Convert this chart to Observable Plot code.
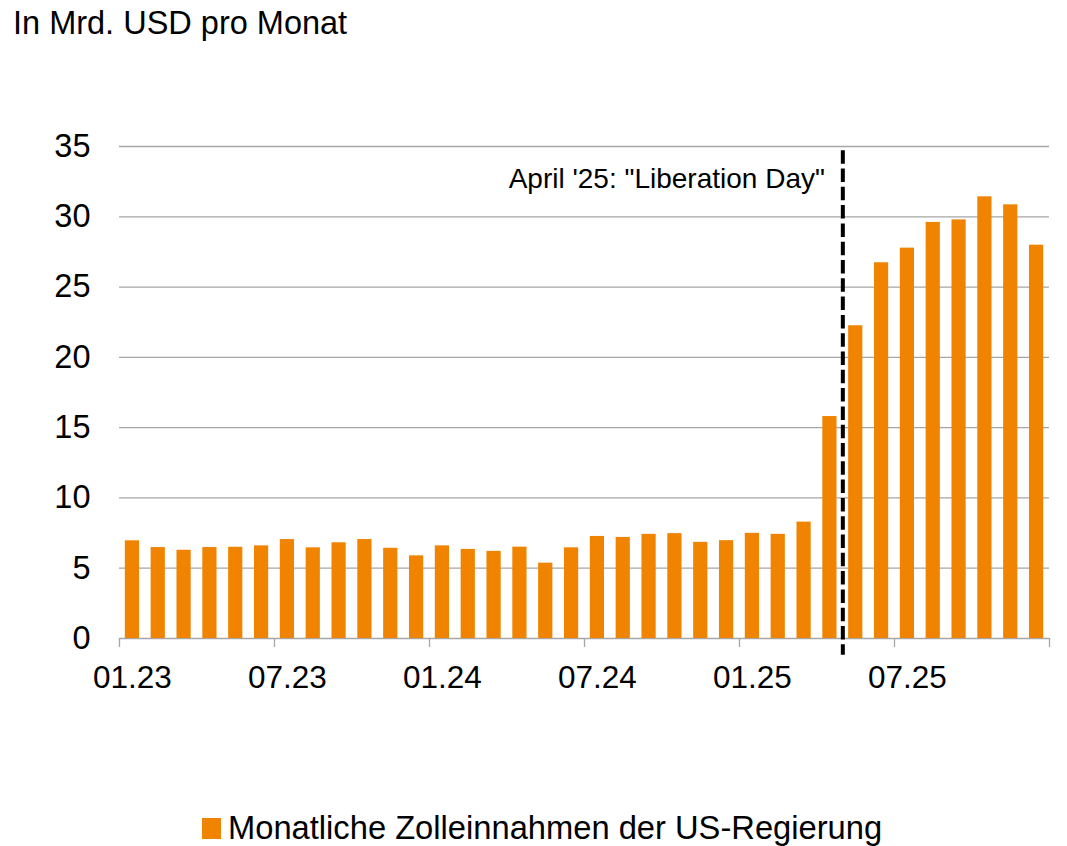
<!DOCTYPE html>
<html><head><meta charset="utf-8">
<script src="https://cdn.jsdelivr.net/npm/d3@7"></script>
<script src="https://cdn.jsdelivr.net/npm/@observablehq/plot@0.6"></script>
<style>
html,body{margin:0;padding:0;background:#fff;}
#wrap{position:relative;width:1067px;height:846px;font-family:"Liberation Sans",Arial,sans-serif;color:#000;overflow:hidden;}
#title{position:absolute;left:13px;top:7px;font-size:32.5px;line-height:32px;white-space:nowrap;}
#chart{position:absolute;left:0;top:50px;}
#legend{position:absolute;left:202px;top:810px;display:flex;align-items:center;font-size:32.7px;line-height:36px;white-space:nowrap;}
.sw{display:inline-block;width:19px;height:21px;background:#f08400;margin-right:7px;}
</style></head><body>
<div id="wrap">
<div id="title">In Mrd. USD pro Monat</div>
<div id="chart"></div>
<div id="legend"><span class="sw"></span><span>Monatliche Zolleinnahmen der US-Regierung</span></div>
</div>
<script>
const months = [
  "01.23","02.23","03.23","04.23","05.23","06.23","07.23","08.23","09.23","10.23","11.23","12.23",
  "01.24","02.24","03.24","04.24","05.24","06.24","07.24","08.24","09.24","10.24","11.24","12.24",
  "01.25","02.25","03.25","04.25","05.25","06.25","07.25","08.25","09.25","10.25","11.25","12.25"
];
const values = [
  6.95, 6.47, 6.28, 6.47, 6.49, 6.59, 7.04, 6.45, 6.81, 7.04, 6.42, 5.88,
  6.59, 6.34, 6.20, 6.50, 5.36, 6.45, 7.26, 7.19, 7.41, 7.46, 6.84, 6.96,
  7.48, 7.41, 8.28, 15.79, 22.25, 26.73, 27.77, 29.60, 29.78, 31.42, 30.85, 27.98
];
const yTicks = [0, 5, 10, 15, 20, 25, 30, 35];
const xTickLabels = ["01.23", "07.23", "01.24", "07.24", "01.25", "07.25"];
const xBoundaryTicks = ["01.23", "07.23", "01.24", "07.24", "01.25", "07.25"];
const lastMonth = "12.25";
const eventMonth = "04.25";
const eventLabel = "April '25: \"Liberation Day\"";
const eventLineTop = 34.7;
const eventLineBottom = -1.2;
const eventLabelY = 32.7;

const data = months.map((m, i) => ({month: m, value: values[i]}));

const W = 1067, H = 730;
const mL = 119, mR = 18, mT = 96, mB = 142;
const step = (W - mL - mR) / months.length;
const gray = "#a6a6a6";
const orange = "#f08400";

const chart = Plot.plot({
  width: W,
  height: H,
  marginLeft: mL,
  marginRight: mR,
  marginTop: mT,
  marginBottom: mB,
  style: {fontFamily: "'Liberation Sans', Arial, sans-serif", fontSize: "31px", color: "#000", background: "#fff"},
  x: {type: "band", domain: months, paddingInner: 0.45, paddingOuter: 0.225, round: false, axis: null},
  y: {domain: [0, 35], axis: null},
  marks: [
    Plot.gridY(yTicks, {stroke: gray, strokeOpacity: 1, strokeWidth: 1.3}),
    Plot.barY(data, {x: "month", y: "value", fill: orange}),
    Plot.axisY(yTicks, {anchor: "left", tickSize: 0, tickPadding: 29, fontSize: 32.5, label: null}),
    Plot.axisX(xTickLabels, {anchor: "bottom", tickSize: 0, tickPadding: 27, fontSize: 31.5, label: null}),
    Plot.axisX(xBoundaryTicks, {anchor: "bottom", tickSize: 9, stroke: gray, strokeWidth: 1.3, strokeOpacity: 1, tickFormat: () => "", dx: -step / 2, label: null}),
    Plot.axisX([lastMonth], {anchor: "bottom", tickSize: 9, stroke: gray, strokeWidth: 1.3, strokeOpacity: 1, tickFormat: () => "", dx: step / 2, label: null}),
    Plot.ruleX([eventMonth], {x: d => d, y1: eventLineTop, y2: eventLineBottom, dx: step / 2, stroke: "#000", strokeWidth: 4, strokeDasharray: "13.5,4.8"}),
    Plot.text([{m: eventMonth, y: eventLabelY, label: eventLabel}], {x: "m", y: "y", text: "label", textAnchor: "end", dx: -5, fontSize: 28, fill: "#000"})
  ]
});
document.getElementById("chart").appendChild(chart);
</script>
</body></html>
